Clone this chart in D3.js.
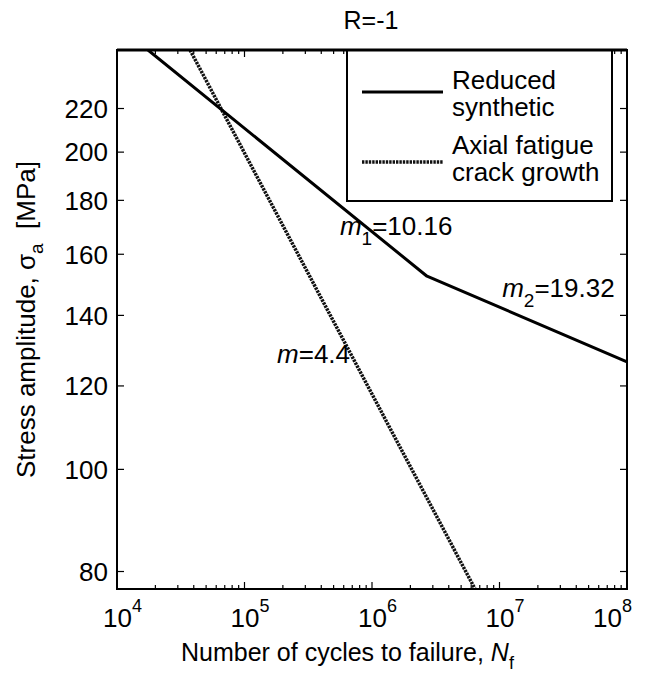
<!DOCTYPE html>
<html>
<head>
<meta charset="utf-8">
<script src="https://cdn.jsdelivr.net/npm/d3@7"></script>
<style>
  html, body { margin: 0; padding: 0; background: #fff; }
  svg { display: block; }
  text { font-family: "Liberation Sans", Arial, sans-serif; fill: #000; }
</style>
</head>
<body>
<svg id="chart" width="646" height="675"></svg>
<script>
// S-N curves at R = -1 (log-log)
const titleText = "R=-1";

// Reduced synthetic curve: bilinear in log-log space
const synthCycles = [1.75e4, 2.7e6, 1e8];
const synthStress = [250, 152.5, 126.5];

// Axial fatigue crack growth prediction
const crackCycles = [3.74e4, 6.43e6];
const crackStress = [250, 77];

const xDomain = [1e4, 1e8];
const yDomain = [77, 250];
const xTickExps = [4, 5, 6, 7, 8];
const yTicks = [80, 100, 120, 140, 160, 180, 200, 220];

const slopeLabels = [
  { sub: "1", value: "10.16", N: 5.6e5, S: 166.8 },
  { sub: "2", value: "19.32", N: 1.05e7, S: 145.7 },
  { sub: "",  value: "4.4",   N: 1.8e5, S: 126.2 }
];

const legendItems = [
  { lines: ["Reduced", "synthetic"], dashed: false },
  { lines: ["Axial fatigue", "crack growth"], dashed: true }
];

const svg = d3.select("#chart");
const L = 117, R = 627, T = 50, B = 589;
const FS = 26;

const x = d3.scaleLog().domain(xDomain).range([L, R]);
const y = d3.scaleLog().domain(yDomain).range([B, T]);

svg.append("defs").append("clipPath").attr("id", "plotClip")
  .append("rect").attr("x", L).attr("y", T).attr("width", R - L).attr("height", B - T);

// minor and major ticks on x (bottom and top, pointing inward)
const minorX = [];
for (let e = 4; e < 8; e++) for (let k = 2; k <= 9; k++) minorX.push(k * Math.pow(10, e));
const tickG = svg.append("g").attr("stroke", "#000").attr("stroke-width", 1.2);
minorX.forEach(v => {
  tickG.append("line").attr("x1", x(v)).attr("x2", x(v)).attr("y1", B).attr("y2", B - 4);
  tickG.append("line").attr("x1", x(v)).attr("x2", x(v)).attr("y1", T).attr("y2", T + 4);
});
xTickExps.forEach(e => {
  const v = Math.pow(10, e);
  tickG.append("line").attr("x1", x(v)).attr("x2", x(v)).attr("y1", B).attr("y2", B - 7);
  tickG.append("line").attr("x1", x(v)).attr("x2", x(v)).attr("y1", T).attr("y2", T + 7);
});
yTicks.forEach(v => {
  tickG.append("line").attr("x1", L).attr("x2", L + 7).attr("y1", y(v)).attr("y2", y(v));
  tickG.append("line").attr("x1", R).attr("x2", R - 7).attr("y1", y(v)).attr("y2", y(v));
});

// tick labels
yTicks.forEach(v => {
  svg.append("text").attr("x", L - 9).attr("y", y(v)).attr("dy", "0.36em")
    .attr("text-anchor", "end").attr("font-size", FS).text(v);
});
xTickExps.forEach((e, i) => {
  const last = i === xTickExps.length - 1;
  const t = svg.append("text").attr("x", x(Math.pow(10, e)) - (last ? 34 : 14)).attr("y", 627)
    .attr("font-size", FS);
  t.append("tspan").text("10");
  t.append("tspan").attr("dy", -15).attr("font-size", 18).text(e);
});

// curves
const line = d3.line().x(d => x(d[0])).y(d => y(d[1]));
const plot = svg.append("g").attr("clip-path", "url(#plotClip)");
plot.append("path")
  .datum(crackCycles.map((n, i) => [n, crackStress[i]]))
  .attr("d", line).attr("fill", "none")
  .attr("stroke", "#111").attr("stroke-width", 3.5).attr("stroke-dasharray", "2.4,1");
plot.append("path")
  .datum(synthCycles.map((n, i) => [n, synthStress[i]]))
  .attr("d", line).attr("fill", "none")
  .attr("stroke", "#000").attr("stroke-width", 3).attr("stroke-linejoin", "round");

// slope annotations
slopeLabels.forEach(d => {
  const t = svg.append("text").attr("x", x(d.N)).attr("y", y(d.S)).attr("font-size", FS);
  t.append("tspan").attr("font-style", "italic").text("m");
  if (d.sub) {
    t.append("tspan").attr("dy", 10).attr("font-size", 19).text(d.sub);
    t.append("tspan").attr("dy", -10).text("=" + d.value);
  } else {
    t.append("tspan").text("=" + d.value);
  }
});

// frame
svg.append("rect").attr("x", L).attr("y", T).attr("width", R - L).attr("height", B - T)
  .attr("fill", "none").attr("stroke", "#000").attr("stroke-width", 2);

// legend
const lg = svg.append("g");
lg.append("rect").attr("x", 347).attr("y", 50).attr("width", 265).attr("height", 151)
  .attr("fill", "#fff").attr("stroke", "#000").attr("stroke-width", 2);
legendItems.forEach((item, i) => {
  const cy = 92 + i * 70;
  lg.append("line").attr("x1", 362).attr("x2", 443).attr("y1", cy).attr("y2", cy)
    .attr("stroke", item.dashed ? "#111" : "#000")
    .attr("stroke-width", item.dashed ? 3.5 : 3)
    .attr("stroke-dasharray", item.dashed ? "2.4,1" : null);
  item.lines.forEach((s, j) => {
    lg.append("text").attr("x", 452).attr("y", 89 + i * 65 + j * 27)
      .attr("font-size", FS).text(s);
  });
});
// thick top edge drawn over the legend
svg.append("line").attr("x1", L).attr("x2", R).attr("y1", T).attr("y2", T)
  .attr("stroke", "#000").attr("stroke-width", 3);

// title and axis labels
svg.append("text").attr("x", 371).attr("y", 29).attr("text-anchor", "middle")
  .attr("font-size", 25).text(titleText);

const xl = svg.append("text").attr("x", 181).attr("y", 661).attr("font-size", 25);
xl.append("tspan").text("Number of cycles to failure, ");
xl.append("tspan").attr("font-style", "italic").text("N");
xl.append("tspan").attr("dy", 8).attr("font-size", 18).text("f");

const yl = svg.append("text")
  .attr("transform", `translate(35,${(T + B) / 2}) rotate(-90)`)
  .attr("text-anchor", "middle").attr("font-size", FS);
yl.append("tspan").text("Stress amplitude, σ");
yl.append("tspan").attr("dy", 8).attr("font-size", 19).text("a");
yl.append("tspan").attr("dy", -8).text("\u00a0 [MPa]");
</script>
</body>
</html>
